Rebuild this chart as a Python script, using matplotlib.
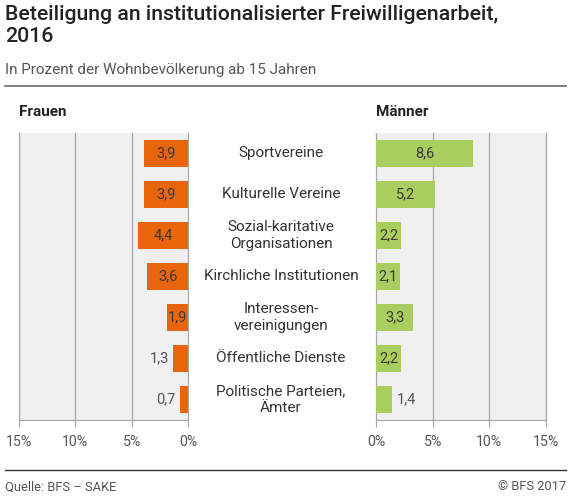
import matplotlib.pyplot as plt
from matplotlib.lines import Line2D

plt.rcParams['font.family'] = ['Roboto', 'DejaVu Sans']

# Data
categories = ['Sportvereine', 'Kulturelle Vereine', 'Sozial-karitative\nOrganisationen',
              'Kirchliche Institutionen', 'Interessen-\nvereinigungen',
              'Öffentliche Dienste', 'Politische Parteien,\nÄmter']
frauen = [3.9, 3.9, 4.4, 3.6, 1.9, 1.3, 0.7]
maenner = [8.6, 5.2, 2.2, 2.1, 3.3, 2.2, 1.4]
ticks = [0, 5, 10, 15]
tick_labels = ['0%', '5%', '10%', '15%']

ORANGE = '#e8650c'
GREEN = '#a9cd5e'
BG = '#f0f0f0'
GRID = '#a8a8a8'
TEXT = '#333333'

W, H = 576, 497
fig = plt.figure(figsize=(W / 100, H / 100), dpi=100)


def fx(px):
    return px / W


def fy(py):
    return 1 - py / H


ax_l = fig.add_axes([fx(19), fy(420), fx(188) - fx(19), fy(133) - fy(420)])
ax_r = fig.add_axes([fx(376), fy(420), fx(546) - fx(376), fy(133) - fy(420)])

ypos = list(range(len(categories)))

for ax, vals, color, side in [(ax_l, frauen, ORANGE, 'left'), (ax_r, maenner, GREEN, 'right')]:
    ax.set_facecolor(BG)
    ax.barh(ypos, vals, height=0.68, color=color, zorder=3)
    ax.set_ylim(len(categories) - 0.5, -0.5)
    ax.set_xlim(0, 15)
    if side == 'left':
        ax.invert_xaxis()
    ax.set_yticks([])
    ax.set_xticks(ticks)
    ax.set_xticklabels(tick_labels)
    ax.tick_params(axis='x', length=5, width=0.8, color=GRID, labelsize=10.2,
                   labelcolor='#555555', pad=6)
    for t in ticks[1:]:
        ax.axvline(t, color=GRID, lw=0.9, zorder=1)
    ax.spines['top'].set_visible(False)
    for s in ['left', 'right', 'bottom']:
        ax.spines[s].set_color(GRID)
        ax.spines[s].set_linewidth(0.9)
    if side == 'left':
        ax.spines['right'].set_zorder(4)
    for y, v in zip(ypos, vals):
        txt = f'{v:.1f}'.replace('.', ',')
        if v >= 1.5:
            ax.text(v / 2, y, txt, ha='center', va='center', fontsize=10.5,
                    color='#3a3a3a', zorder=5)
        else:
            ax.text(v + 0.4, y, txt, ha='right' if side == 'left' else 'left',
                    va='center', fontsize=10.5, color='#555555', zorder=5)

# category labels in the middle
for y, cat in zip(ypos, categories):
    ypx = 133 + (y + 0.5) * (420 - 133) / len(categories)
    fig.text(fx(281), fy(ypx), cat, ha='center', va='center', fontsize=11,
             color=TEXT, linespacing=1.2)

# titles and header
fig.text(fx(5), fy(5), 'Beteiligung an institutionalisierter Freiwilligenarbeit,\n2016',
         ha='left', va='top', fontsize=15.3, fontweight='medium', color='#222222',
         linespacing=1.2)
fig.text(fx(5), fy(70), 'In Prozent der Wohnbevölkerung ab 15 Jahren', ha='left',
         va='center', fontsize=11, color='#555555')
fig.add_artist(Line2D([fx(5), fx(566)], [fy(86), fy(86)], color='#777777', lw=1.3,
                      transform=fig.transFigure))
fig.text(fx(19), fy(112), 'Frauen', ha='left', va='center', fontsize=11,
         fontweight='bold', color='#222222')
fig.text(fx(376), fy(112), 'Männer', ha='left', va='center', fontsize=11,
         fontweight='bold', color='#222222')

# footer
fig.add_artist(Line2D([fx(5), fx(566)], [fy(470), fy(470)], color='#333333', lw=1.0,
                      transform=fig.transFigure))
fig.text(fx(5), fy(487), 'Quelle: BFS – SAKE', ha='left', va='center', fontsize=9.3,
         color='#555555')
fig.text(fx(566), fy(487), '© BFS 2017', ha='right', va='center', fontsize=9.3,
         color='#555555')

fig.savefig('out.png', dpi=100)
